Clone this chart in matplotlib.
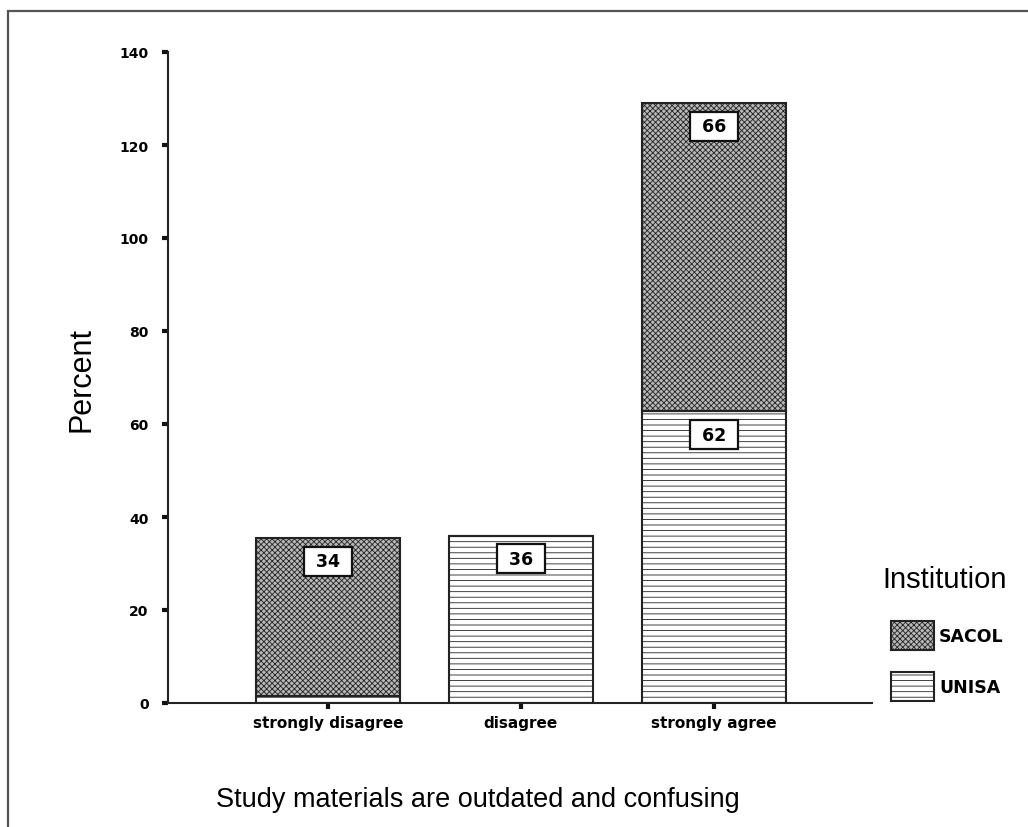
import matplotlib
matplotlib.use("Agg")
import matplotlib.pyplot as plt
from matplotlib.patches import Rectangle, Patch

# data (percent of each institution)
categories = ["strongly disagree", "disagree", "strongly agree"]
unisa = [1.5, 36.0, 62.7]
sacol = [34.0, 0.0, 66.3]
unisa_labels = ["", "36", "62"]
sacol_labels = ["34", "", "66"]
yticks = [0, 20, 40, 60, 80, 100, 120, 140]

plt.rcParams["font.family"] = ["Liberation Sans", "DejaVu Sans"]
plt.rcParams["hatch.linewidth"] = 0.6
heavy = ["DejaVu Sans"]

fig = plt.figure(figsize=(10.28, 8.28), dpi=100)
ax = fig.add_axes([168 / 1028, 1 - 704 / 828, 704 / 1028, 651 / 828])

# outer frame (top and left only visible)
fig.add_artist(Rectangle((8 / 1028, -0.05), 1.2, 1 - 12 / 828 + 0.05,
                         transform=fig.transFigure, fill=False,
                         edgecolor="#555555", linewidth=1.6))

x = list(range(len(categories)))
w = 0.746

plt.rcParams["hatch.color"] = "#333333"
ax.bar(x, unisa, width=w, color="white", edgecolor="#222222", hatch="---",
       linewidth=1.5, label="UNISA")
plt.rcParams["hatch.color"] = "#3a3a3a"
ax.bar(x, sacol, width=w, bottom=unisa, color="#b8b8b8", edgecolor="#222222",
       hatch="xxxxxx", linewidth=1.5, label="SACOL")

# value boxes near top of each segment
box = dict(boxstyle="square,pad=0.32", fc="white", ec="#111111", lw=1.6)
for i in x:
    if unisa_labels[i]:
        ax.text(i, unisa[i] - 5, " " + unisa_labels[i] + " ", ha="center", va="center",
                fontsize=12.5, fontweight="bold", family=heavy, bbox=box)
    if sacol_labels[i]:
        ax.text(i, unisa[i] + sacol[i] - 5, " " + sacol_labels[i] + " ", ha="center",
                va="center", fontsize=12.5, fontweight="bold", family=heavy, bbox=box)

ax.set_xlim(-0.829, 2.819)
ax.set_ylim(0, 140)
ax.set_yticks(yticks)
ax.set_xticks(x)
ax.set_xticklabels(categories, fontsize=11, fontweight="bold", family=heavy)
for lab in ax.get_yticklabels():
    lab.set_fontweight("bold")
    lab.set_fontsize(10)
    lab.set_family(heavy)
ax.tick_params(axis="both", length=4, width=3, color="#111111", pad=10)
ax.tick_params(axis="x", pad=5)
for s in ["top", "right"]:
    ax.spines[s].set_visible(False)
for s in ["left", "bottom"]:
    ax.spines[s].set_linewidth(1.5)
    ax.spines[s].set_color("#222222")

fig.text(82 / 1028, 1 - 380 / 828, "Percent", rotation=90, ha="center",
         va="center", fontsize=22)
fig.text(478 / 1028, 1 - 800 / 828, "Study materials are outdated and confusing",
         ha="center", va="center", fontsize=19.5)

# legend
fig.text(945 / 1028, 1 - 580 / 828, "Institution", ha="center", va="center",
         fontsize=21)
handles = [Patch(facecolor="#b8b8b8", edgecolor="#222222", hatch="xxxxxx", lw=1.5),
           Patch(facecolor="white", edgecolor="#222222", hatch="---", lw=1.5)]
fig.legend(handles, ["SACOL", "UNISA"], loc="upper left",
           bbox_to_anchor=(875 / 1028, 1 - 606 / 828), frameon=False,
           prop={"weight": "bold", "size": 12.5, "family": heavy},
           handlelength=2.5, handleheight=2.2, labelspacing=1.3,
           handletextpad=0.3)

fig.savefig("out.png", dpi=100, facecolor="white")
